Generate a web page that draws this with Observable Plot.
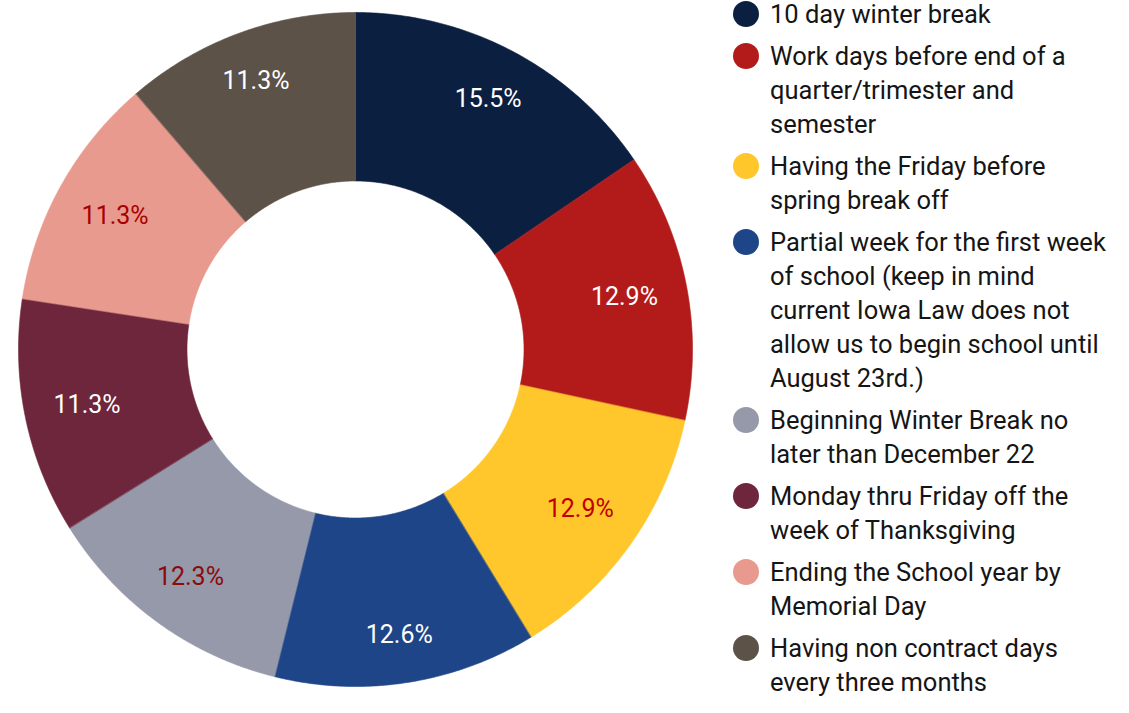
<!DOCTYPE html>
<html><head><meta charset="utf-8">
<script src="https://cdn.jsdelivr.net/npm/d3@7"></script>
<script src="https://cdn.jsdelivr.net/npm/@observablehq/plot@0.6"></script>
<style>
body{margin:0;background:#fff;font-family:Roboto,sans-serif;}
#wrap{position:relative;width:1129px;height:713px;overflow:hidden;}
#chart{position:absolute;left:0;top:0;}
#legend{position:absolute;left:733px;top:-3px;}
.item{display:flex;align-items:flex-start;margin-bottom:8px}
.sw{width:26px;height:26px;border-radius:50%;margin-top:4px;margin-right:11px;flex:none}
.lab{font-size:25.5px;line-height:34px;white-space:pre-line;color:#151515}
</style>
</head><body>
<div id="wrap"><div id="chart"></div><div id="legend"></div></div>
<script>
// Data
const categories = [
  "10 day winter break",
  "Work days before end of a\nquarter/trimester and\nsemester",
  "Having the Friday before\nspring break off",
  "Partial week for the first week\nof school (keep in mind\ncurrent Iowa Law does not\nallow us to begin school until\nAugust 23rd.)",
  "Beginning Winter Break no\nlater than December 22",
  "Monday thru Friday off the\nweek of Thanksgiving",
  "Ending the School year by\nMemorial Day",
  "Having non contract days\nevery three months"
];
const counts = [48, 40, 40, 39, 38, 35, 35, 35];

// Styles
const colors = ["#0b1f41", "#b31b1b", "#ffc72c", "#1e4588", "#9599a9", "#6d263c", "#e99a8e", "#5c5248"];
const labelColors = ["#ffffff", "#ffffff", "#c00000", "#ffffff", "#8b0a0a", "#ffffff", "#a80000", "#ffffff"];

const total = d3.sum(counts);
const innerR = 0.5;
// label radius (fraction of outer radius), pushed out a little near top/bottom
const labelRadius = a => (274 + 16 * Math.pow(Math.cos(a), 4)) / 337;
let cum = 0;
const slices = counts.map((c, i) => {
  const a0 = cum / total * 2 * Math.PI;
  cum += c;
  const a1 = cum / total * 2 * Math.PI;
  return {cat: categories[i], value: c, a0, a1, pct: (c / total * 100).toFixed(1) + "%", i};
});

const poly = [];
for (const s of slices) {
  const n = Math.max(8, Math.ceil((s.a1 - s.a0) / (Math.PI / 360)));
  for (let k = 0; k <= n; k++) {
    const a = s.a0 + (s.a1 - s.a0) * k / n;
    poly.push({cat: s.cat, x: Math.sin(a), y: Math.cos(a)});
  }
  for (let k = n; k >= 0; k--) {
    const a = s.a0 + (s.a1 - s.a0) * k / n;
    poly.push({cat: s.cat, x: innerR * Math.sin(a), y: innerR * Math.cos(a)});
  }
}
const labels = slices.map(s => {
  const m = (s.a0 + s.a1) / 2;
  const r = labelRadius(m);
  return {x: r * Math.sin(m), y: r * Math.cos(m), text: s.pct, color: labelColors[s.i]};
});

const chart = Plot.plot({
  width: 720, height: 713,
  margin: 0,
  x: {domain: [-1, 1], range: [18, 692], axis: null},
  y: {domain: [-1, 1], range: [686, 12], axis: null},
  color: {domain: categories, range: colors},
  style: {fontFamily: "Roboto, sans-serif", background: "transparent"},
  marks: [
    Plot.line(poly, {x: "x", y: "y", z: "cat", fill: "cat", stroke: "cat", strokeWidth: 0.6, curve: "linear-closed"}),
    Plot.text(labels, {x: "x", y: "y", text: "text", fill: d => d.color, fontSize: 25, textAnchor: "middle"})
  ]
});
document.getElementById("chart").appendChild(chart);

const legend = document.getElementById("legend");
categories.forEach((c, i) => {
  const item = document.createElement("div");
  item.className = "item";
  const sw = document.createElement("div");
  sw.className = "sw";
  sw.style.background = colors[i];
  const lab = document.createElement("div");
  lab.className = "lab";
  lab.textContent = c;
  item.appendChild(sw); item.appendChild(lab);
  legend.appendChild(item);
});
</script>
</body></html>
